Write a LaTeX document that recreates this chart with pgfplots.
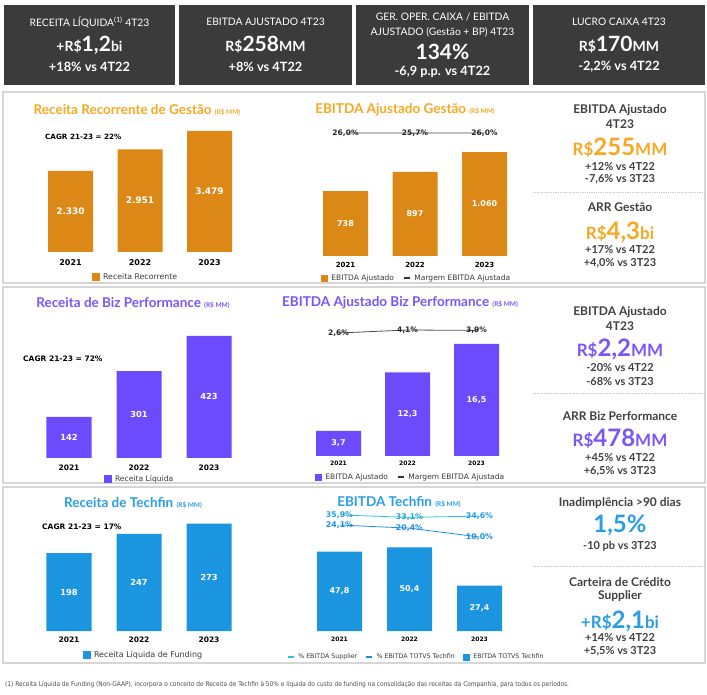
\documentclass[border=0pt]{standalone}
\usepackage{pgfplots}
\usepackage{pgfplotstable}
\pgfplotsset{compat=1.18}
\usepackage{fontspec}
\setmainfont{Lato}
\newfontfamily\vfont{DejaVu Sans}
\newfontfamily\cfont{DejaVu Sans Condensed}
\newcommand\fs[1]{\fontsize{#1}{#1}\selectfont}

\definecolor{boxgray}{HTML}{3B3B3B}
\definecolor{frame}{HTML}{D6D6D6}
\definecolor{sepgray}{HTML}{C8C8C8}
\definecolor{ink}{HTML}{404040}
\definecolor{legink}{HTML}{3A3A3A}
\definecolor{lineink}{HTML}{505050}
\definecolor{orgbar}{HTML}{DB8816}
\definecolor{orgtxt}{HTML}{F7A823}
\definecolor{purbar}{HTML}{6C4BFF}
\definecolor{purtxt}{HTML}{7A55F7}
\definecolor{blubar}{HTML}{1B95E0}
\definecolor{blutxt}{HTML}{2A9DE8}
\definecolor{cyanln}{HTML}{2BC6DB}
\definecolor{bluln}{HTML}{1E8FE0}

% ---- data ----
\pgfplotstableread{
x v lab
0 2330 2.330
1 2951 2.951
2 3479 3.479
}\recGestao
\pgfplotstableread{
x v lab
0 738 738
1 897 897
2 1060 1.060
}\ebitdaGestao
\pgfplotstableread{
x m lab
0 26.0 26,0
1 25.7 25,7
2 26.0 26,0
}\margemGestao
\pgfplotstableread{
x v lab
0 142 142
1 301 301
2 423 423
}\recBiz
\pgfplotstableread{
x v lab
0 3.7 3,7
1 12.3 12,3
2 16.5 16,5
}\ebitdaBiz
\pgfplotstableread{
x m lab
0 2.6 2,6
1 4.1 4,1
2 3.9 3,9
}\margemBiz
\pgfplotstableread{
x v lab
0 198 198
1 247 247
2 273 273
}\recTechfin
\pgfplotstableread{
x v lab
0 47.8 47,8
1 50.4 50,4
2 27.4 27,4
}\ebitdaTechfin
\pgfplotstableread{
x sup supl tot totl
0 35.9 35,9 24.1 24,1
1 33.1 33,1 20.4 20,4
2 34.6 34,6 10.0 10,0
}\pctTechfin

\pgfplotsset{
  chart/.style={
    scale only axis, anchor=south west,
    axis line style={draw=none}, major tick length=0pt, tick style={draw=none},
    ytick=\empty, xtick={0,1,2}, xticklabels={2021,2022,2023},
    xmin=-0.5, xmax=2.5,
    legend columns=-1,
    legend style={draw=none, fill=none, inner sep=0pt, outer sep=0pt, anchor=west,
      nodes={text=legink, inner sep=1.2pt},
      /tikz/every odd column/.append style={column sep=2.5pt},
      /tikz/every even column/.append style={column sep=8pt}},
  },
  years/.style 2 args={xticklabel style={font=\vfont\bfseries\fs{#1}, text=black, anchor=center, yshift=-#2pt}},
  bars/.style={ybar, bar width=45pt, bar shift=0pt, draw=none, fill=#1, forget plot},
  inlabels/.style={forget plot, draw=none, mark=none, nodes near coords, point meta=explicit symbolic,
    every node near coord/.append style={anchor=center, inner sep=0pt, text=white, font=\vfont\bfseries\fs{#1}}},
  ovl/.style={scale only axis, anchor=south west, clip=false, hide axis, xmin=-0.5, xmax=2.5},
  pctline/.style n args={3}{mark=none, line width=0.8pt, color=#1, nodes near coords={\pgfplotspointmeta\%}, point meta=explicit symbolic,
    every node near coord/.append style={anchor=center, inner sep=0pt, text=#2, font=\vfont\bfseries\fs{#3}}},
  sqimg/.style 2 args={legend image code/.code={\fill[#1] (0pt,-#2) rectangle (2*#2,#2);}},
  lnimg/.style 2 args={legend image code/.code={\draw[#1, line width=1.5pt] (0pt,0pt) -- (#2,0pt);}},
}

\begin{document}
\begin{tikzpicture}[x=1pt,y=1pt]
\fill[white] (0,0) rectangle (707,694);
\path[use as bounding box] (0,0) rectangle (707,694);

% ---- KPI boxes ----
\foreach \xa/\xb in {4/175,179/352,356/529,533/705}
  \fill[boxgray] (\xa,{694-5}) rectangle (\xb,{694-85});
\begin{scope}[every node/.style={text=white, inner sep=0pt}]
\node[font=\fs{10.3}] at (89.5,{694-22}) {RECEITA LÍQUIDA\textsuperscript{(1)} 4T23};
\node[font=\bfseries] at (89.5,{694-45}) {\fs{14}+R\$\fs{21}1,2\fs{14}bi};
\node[font=\bfseries\fs{12.8}] at (89.5,{694-67}) {+18\% vs 4T22};
\node[font=\fs{10.3}] at (265.5,{694-22}) {EBITDA AJUSTADO 4T23};
\node[font=\bfseries] at (265.5,{694-45}) {\fs{14}R\$\fs{21}258\fs{14}MM};
\node[font=\bfseries\fs{12.8}] at (265.5,{694-67}) {+8\% vs 4T22};
\node[font=\fs{10.3}] at (442.5,{694-17}) {GER. OPER. CAIXA / EBITDA};
\node[font=\fs{10.3}] at (442.5,{694-32}) {AJUSTADO (Gestão + BP) 4T23};
\node[font=\bfseries\fs{21}] at (442.5,{694-52}) {134\%};
\node[font=\bfseries\fs{12.8}] at (442.5,{694-72}) {-6,9 p.p. vs 4T22};
\node[font=\fs{10.3}] at (619,{694-22}) {LUCRO CAIXA 4T23};
\node[font=\bfseries] at (619,{694-45}) {\fs{14}R\$\fs{21}170\fs{14}MM};
\node[font=\bfseries\fs{12.8}] at (619,{694-67}) {-2,2\% vs 4T22};
\end{scope}

% ---- row frames ----
\draw[frame, line width=2.5pt] (3,{694-92}) rectangle (705,{694-283});
\draw[frame, line width=2.5pt] (3,{694-287}) rectangle (705,{694-483});
\draw[frame, line width=2.5pt] (3,{694-487}) rectangle (705,{694-663});
\foreach \yy in {192,393,566}
  \draw[sepgray, densely dotted, line width=0.8pt] (533,{694-\yy}) -- (705,{694-\yy});

% ---- titles ----
\begin{scope}[every node/.style={inner sep=0pt, font=\bfseries}]
\node[text=orgtxt] at (137,{694-110}) {\fs{13.5}Receita Recorrente de Gestão \fs{6.5}(R\$ MM)};
\node[text=orgtxt] at (405,{694-110}) {\fs{13.5}EBITDA Ajustado Gestão \fs{6.5}(R\$ MM)};
\node[text=purtxt] at (133,{694-303}) {\fs{13.5}Receita de Biz Performance \fs{6.5}(R\$ MM)};
\node[text=purtxt] at (400,{694-303}) {\fs{13.5}EBITDA Ajustado Biz Performance \fs{6.5}(R\$ MM)};
\node[text=blutxt] at (133,{694-503}) {\fs{13.5}Receita de Techfin \fs{6.5}(R\$ MM)};
\node[text=blutxt] at (399,{694-502}) {\fs{13.5}EBITDA Techfin \fs{6.5}(R\$ MM)};
\end{scope}

% ---- CAGR notes ----
\begin{scope}[every node/.style={inner sep=0pt, anchor=west, font=\vfont\bfseries\fs{7.2}}]
\node at (45,{694-137}) {CAGR 21-23 = 22\%};
\node[font=\vfont\bfseries\fs{7.5}] at (23,{694-359}) {CAGR 21-23 = 72\%};
\node[font=\vfont\bfseries\fs{7.5}] at (42,{694-527}) {CAGR 21-23 = 17\%};
\end{scope}

% ---- Receita Recorrente de Gestão ----
\begin{axis}[chart, years={8}{11}, at={(35.75pt,442pt)}, width=208.5pt, height=132.2pt,
  ymin=0, ymax=3800,
  legend style={at={(axis description cs:0.27,-0.189)}, font=\vfont\fs{7.8}}]
\addplot[bars=orgbar] table[x=x, y=v] {\recGestao};
\addplot[inlabels=9] table[x=x, y expr=\thisrow{v}/2, meta=lab] {\recGestao};
\addlegendimage{sqimg={orgbar}{3.5pt}}
\addlegendentry{Receita Recorrente}
\end{axis}

% ---- EBITDA Ajustado Gestão ----
\begin{axis}[chart, years={7}{9}, at={(310.75pt,438pt)}, width=208.5pt, height=126.8pt,
  ymin=200, ymax=1250,
  legend style={at={(axis description cs:0.049,-0.173)}, font=\vfont\fs{7.5}}]
\addplot[bars=orgbar] table[x=x, y=v] {\ebitdaGestao};
\addplot[inlabels=8] table[x=x, y expr={(\thisrow{v}+200)/2}, meta=lab] {\ebitdaGestao};
\addlegendimage{sqimg={orgbar}{3.2pt}}
\addlegendentry{EBITDA Ajustado}
\addlegendimage{lnimg={black!80}{6pt}}
\addlegendentry{Margem EBITDA Ajustada}
\end{axis}
\begin{axis}[ovl, at={(310.75pt,551pt)}, width=208.5pt, height=20pt, ymin=0, ymax=52]
\addplot[pctline={lineink}{black!85}{7.5}] table[x=x, y=m, meta=lab] {\margemGestao};
\end{axis}

% ---- Receita de Biz Performance ----
\begin{axis}[chart, years={7.5}{10}, at={(34pt,236pt)}, width=210pt, height=138.7pt,
  ymin=0, ymax=480,
  legend style={at={(axis description cs:0.333,-0.151)}, font=\vfont\fs{7.6}}]
\addplot[bars=purbar] table[x=x, y=v] {\recBiz};
\addplot[inlabels=8.3] table[x=x, y expr=\thisrow{v}/2, meta=lab] {\recBiz};
\addlegendimage{sqimg={purbar}{3.5pt}}
\addlegendentry{Receita Líquida}
\end{axis}

% ---- EBITDA Ajustado Biz Performance ----
\begin{axis}[chart, years={6}{7}, at={(304pt,238pt)}, width=207pt, height=136pt,
  ymin=0, ymax=20,
  legend style={at={(axis description cs:0.053,-0.154)}, font=\vfont\fs{7.5}}]
\addplot[bars=purbar] table[x=x, y=v] {\ebitdaBiz};
\addplot[inlabels=8] table[x=x, y expr=\thisrow{v}/2, meta=lab] {\ebitdaBiz};
\addlegendimage{sqimg={purbar}{3.2pt}}
\addlegendentry{EBITDA Ajustado}
\addlegendimage{lnimg={black!80}{6pt}}
\addlegendentry{Margem EBITDA Ajustada}
\end{axis}
\begin{axis}[ovl, at={(304pt,355.8pt)}, width=207pt, height=20pt, ymin=0, ymax=10]
\addplot[pctline={lineink}{black!85}{7.5}] table[x=x, y=m, meta=lab] {\margemBiz};
\end{axis}

% ---- Receita de Techfin ----
\begin{axis}[chart, years={7.5}{9}, at={(34pt,63pt)}, width=210pt, height=117.9pt,
  ymin=0, ymax=300,
  legend style={at={(axis description cs:0.233,-0.204)}, font=\vfont\fs{8}}]
\addplot[bars=blubar] table[x=x, y=v] {\recTechfin};
\addplot[inlabels=8.3] table[x=x, y expr=\thisrow{v}/2, meta=lab] {\recTechfin};
\addlegendimage{sqimg={blubar}{3.5pt}}
\addlegendentry{Receita Líquida de Funding}
\end{axis}

% ---- EBITDA Techfin ----
\begin{axis}[chart, years={6}{8}, at={(304.5pt,63pt)}, width=210pt, height=99.6pt,
  ymin=0, ymax=60,
  legend style={at={(axis description cs:-0.083,-0.261)}, font=\vfont\fs{6.3},
    /tikz/every even column/.append style={column sep=7pt}}]
\addplot[bars=blubar] table[x=x, y=v] {\ebitdaTechfin};
\addplot[inlabels=8] table[x=x, y expr=\thisrow{v}/2, meta=lab] {\ebitdaTechfin};
\addlegendimage{lnimg={cyanln}{6pt}}
\addlegendentry{\% EBITDA Supplier}
\addlegendimage{lnimg={bluln}{6pt}}
\addlegendentry{\% EBITDA TOTVS Techfin}
\addlegendimage{sqimg={blubar}{3.2pt}}
\addlegendentry{EBITDA TOTVS Techfin}
\end{axis}
\begin{axis}[ovl, at={(304.5pt,148.5pt)}, width=210pt, height=34pt, ymin=0, ymax=40]
\addplot[pctline={cyanln}{cyanln!80!blue}{7.8}] table[x=x, y=sup, meta=supl] {\pctTechfin};
\addplot[pctline={bluln}{bluln}{7.8}] table[x=x, y=tot, meta=totl] {\pctTechfin};
\end{axis}

% ---- side panels ----
\begin{scope}[every node/.style={inner sep=0pt, font=\bfseries, text=ink}]
\node[font=\bfseries\fs{12}] at (620,{694-110}) {EBITDA Ajustado};
\node[font=\bfseries\fs{12}] at (620,{694-124}) {4T23};
\node[text=orgtxt] at (620,{694-148}) {\fs{17}R\$\fs{24}255\fs{17}MM};
\node[font=\bfseries\fs{11}] at (620,{694-167}) {+12\% vs 4T22};
\node[font=\bfseries\fs{11}] at (620,{694-179}) {-7,6\% vs 3T23};
\node[font=\bfseries\fs{12}] at (620,{694-207}) {ARR Gestão};
\node[text=orgtxt] at (620,{694-232}) {\fs{17}R\$\fs{24}4,3\fs{17}bi};
\node[font=\bfseries\fs{11}] at (620,{694-250}) {+17\% vs 4T22};
\node[font=\bfseries\fs{11}] at (620,{694-263}) {+4,0\% vs 3T23};

\node[font=\bfseries\fs{12}] at (620,{694-312}) {EBITDA Ajustado};
\node[font=\bfseries\fs{12}] at (620,{694-326}) {4T23};
\node[text=purtxt] at (620,{694-349}) {\fs{17}R\$\fs{24}2,2\fs{17}MM};
\node[font=\bfseries\fs{11}] at (620,{694-368}) {-20\% vs 4T22};
\node[font=\bfseries\fs{11}] at (620,{694-382}) {-68\% vs 3T23};
\node[font=\bfseries\fs{12}] at (620,{694-416}) {ARR Biz Performance};
\node[text=purtxt] at (620,{694-439}) {\fs{17}R\$\fs{24}478\fs{17}MM};
\node[font=\bfseries\fs{11}] at (620,{694-458}) {+45\% vs 4T22};
\node[font=\bfseries\fs{11}] at (620,{694-471}) {+6,5\% vs 3T23};

\node[font=\bfseries\fs{12}] at (620,{694-503}) {Inadimplência >90 dias};
\node[text=blutxt, font=\bfseries\fs{24}] at (620,{694-525}) {1,5\%};
\node[font=\bfseries\fs{11}] at (620,{694-546}) {-10 pb vs 3T23};
\node[font=\bfseries\fs{12}] at (620,{694-582}) {Carteira de Crédito};
\node[font=\bfseries\fs{12}] at (620,{694-596}) {Supplier};
\node[text=blutxt] at (620,{694-621}) {\fs{17}+R\$\fs{24}2,1\fs{17}bi};
\node[font=\bfseries\fs{11}] at (620,{694-638}) {+14\% vs 4T22};
\node[font=\bfseries\fs{11}] at (620,{694-651}) {+5,5\% vs 3T23};
\end{scope}

% ---- footnote ----
\node[anchor=west, inner sep=0pt, text=black!70, font=\cfont\fs{6.5}] at (5,{694-685})
  {(1) Receita Líquida de Funding (Non-GAAP), incorpora o conceito de Receita de Techfin à 50\% e líquida do custo de funding na consolidação das receitas da Companhia, para todos os períodos.};
\end{tikzpicture}
\end{document}
